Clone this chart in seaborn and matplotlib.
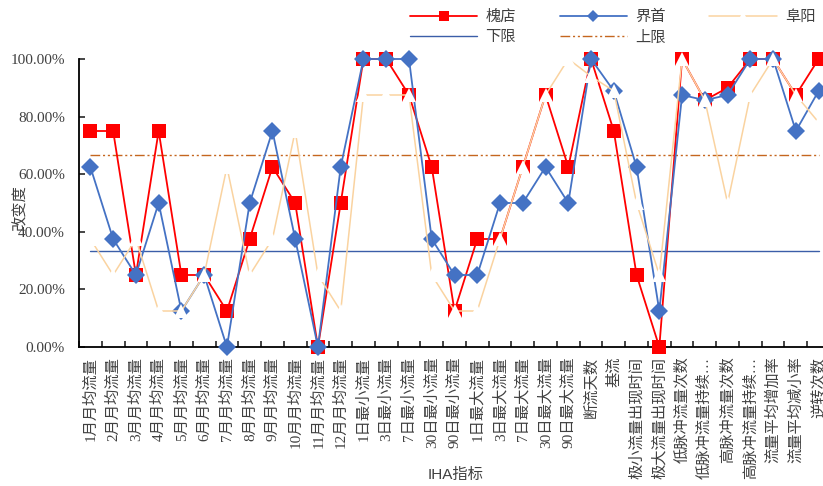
import numpy as np
import matplotlib
matplotlib.use("Agg")
import matplotlib.pyplot as plt
import seaborn as sns

# IHA indicators (x categories)
categories = [
    "1月月均流量", "2月月均流量", "3月月均流量", "4月月均流量", "5月月均流量",
    "6月月均流量", "7月月均流量", "8月月均流量", "9月月均流量", "10月月均流量",
    "11月月均流量", "12月月均流量",
    "1日最小流量", "3日最小流量", "7日最小流量", "30日最小流量", "90日最小流量",
    "1日最大流量", "3日最大流量", "7日最大流量", "30日最大流量", "90日最大流量",
    "断流天数", "基流", "极小流量出现时间", "极大流量出现时间",
    "低脉冲流量次数", "低脉冲流量持续…", "高脉冲流量次数", "高脉冲流量持续…",
    "流量平均增加率", "流量平均减小率", "逆转次数",
]

# degree of alteration (%)
huaidian = [75, 75, 25, 75, 25, 25, 12.5, 37.5, 62.5, 50, 0, 50,
            100, 100, 87.5, 62.5, 12.5, 37.5, 37.5, 62.5, 87.5, 62.5,
            100, 75, 25, 0, 100, 85.7, 90, 100, 100, 87.5, 100]
jieshou = [62.5, 37.5, 25, 50, 12.5, 25, 0, 50, 75, 37.5, 0, 62.5,
           100, 100, 100, 37.5, 25, 25, 50, 50, 62.5, 50,
           100, 88.9, 62.5, 12.5, 87.5, 85.7, 87.5, 100, 100, 75, 88.9]
fuyang = [37.5, 25, 37.5, 12.5, 12.5, 25, 62.5, 25, 37.5, 75, 25, 12.5,
          87.5, 87.5, 87.5, 25, 12.5, 12.5, 37.5, 62.5, 87.5, 100,
          94, 88.9, 50, 25, 100, 85.7, 50, 87.5, 100, 87.5, 78]
lower_limit = 33.33
upper_limit = 66.67

sns.set_style("ticks")
plt.rcParams["font.family"] = ["Liberation Serif", "Noto Sans CJK SC", "DejaVu Sans"]
plt.rcParams["axes.unicode_minus"] = False

text_color = "#404040"

fig = plt.figure(figsize=(8.23, 4.86), dpi=100)
ax = fig.add_axes([79 / 823, 1 - 347 / 486, 751 / 823, 288 / 486])

x = np.arange(len(categories))

sns.lineplot(x=x, y=huaidian, ax=ax, sort=False, color="#FF0000", lw=1.3,
             marker="s", markersize=10, markeredgewidth=0, label="槐店",
             clip_on=False, zorder=3)
sns.lineplot(x=x, y=jieshou, ax=ax, sort=False, color="#4472C4", lw=1.3,
             marker="D", markersize=9, markeredgewidth=0, label="界首",
             clip_on=False, zorder=4)
sns.lineplot(x=x, y=fuyang, ax=ax, sort=False, color="#FAD3A0", lw=1.1,
             marker="^", markersize=10, markerfacecolor="white",
             markeredgewidth=0, label="阜阳", clip_on=False, zorder=5)
sns.lineplot(x=x, y=[lower_limit] * len(x), ax=ax, sort=False,
             color="#3B5EA8", lw=1.0, label="下限", zorder=2)
sns.lineplot(x=x, y=[upper_limit] * len(x), ax=ax, sort=False,
             color="#C5661F", lw=1.0, dashes=False, label="上限", zorder=2)
ax.lines[-1].set_dashes([7, 2, 1.5, 2, 1.5, 2])

# axes
ax.set_xlim(-0.5, len(categories) - 0.5)
ax.set_ylim(0, 100)
ax.set_xticks(np.arange(-0.5, len(categories), 1))
ax.set_xticklabels([])
ax.set_xticks(x, minor=True)
ax.set_xticklabels(categories, minor=True, rotation=90, fontsize=11,
                   color=text_color)
ax.tick_params(axis="x", which="major", direction="in", length=4, width=1.2)
ax.tick_params(axis="x", which="minor", length=0, pad=7)

yt = [0, 20, 40, 60, 80, 100]
ax.set_yticks(yt)
ax.set_yticklabels([f"{v:.2f}%" for v in yt], fontsize=11, color=text_color)
ax.tick_params(axis="y", direction="in", length=4, width=1.2, pad=10)

for s in ["top", "right"]:
    ax.spines[s].set_visible(False)
for s in ["left", "bottom"]:
    ax.spines[s].set_color("black")
    ax.spines[s].set_linewidth(1.3)
ax.set_xlabel("")
ax.set_ylabel("")

fig.text(20 / 823, 1 - 208 / 486, "改变度", rotation=90, ha="center",
         va="center", fontsize=11, color=text_color)
fig.text(456 / 823, 1 - 475 / 486, "IHA指标", ha="center", va="center",
         fontsize=11, color=text_color,
         family=["Liberation Sans", "Noto Sans CJK SC"])

# legend, row-major order like the original
handles, labels = ax.get_legend_handles_labels()
lookup = dict(zip(labels, handles))
order = ["槐店", "下限", "界首", "上限", "阜阳"]
ax.legend([lookup[k] for k in order], order, ncol=3, loc="upper left",
          bbox_to_anchor=(410 / 823, 1 - 10 / 486), bbox_transform=fig.transFigure,
          frameon=False, fontsize=11, handlelength=4.4, handletextpad=0.55,
          columnspacing=2.85, labelspacing=0.4, borderpad=0, borderaxespad=0,
          markerscale=0.7, labelcolor=text_color)

fig.savefig("out.png", dpi=100)
